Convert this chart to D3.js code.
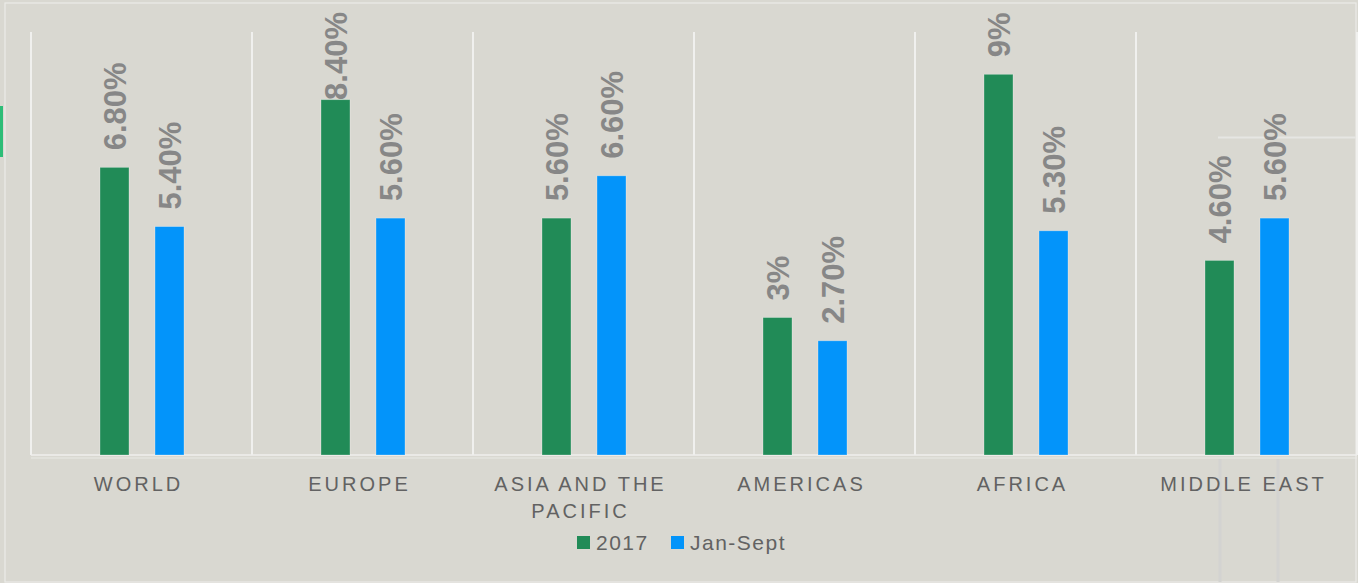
<!DOCTYPE html>
<html>
<head>
<meta charset="utf-8">
<script src="https://cdn.jsdelivr.net/npm/d3@7"></script>
<style>
  html, body { margin: 0; padding: 0; background: #d9d8d1; }
  svg { display: block; }
  .cat text { font-family: "Liberation Sans", Arial, sans-serif; font-size: 20px; fill: #626262; letter-spacing: 3px; }
  .val { font-family: "Liberation Sans", Arial, sans-serif; font-size: 31px; font-weight: bold; fill: #878787; }
  .legend text { font-family: "Liberation Sans", Arial, sans-serif; font-size: 21px; fill: #626262; letter-spacing: 1.5px; }
</style>
</head>
<body>
<div id="graphic"></div>
<script>
// chart data
const categories = ['WORLD', 'EUROPE', 'ASIA AND THE PACIFIC', 'AMERICAS', 'AFRICA', 'MIDDLE EAST'];
const seriesNames = ['2017', 'Jan-Sept'];
const values2017 = [6.8, 8.4, 5.6, 3.25, 9.0, 4.6];
const valuesJanSept = [5.4, 5.6, 6.6, 2.7, 5.3, 5.6];
const labels2017 = ['6.80%', '8.40%', '5.60%', '3%', '9%', '4.60%'];
const labelsJanSept = ['5.40%', '5.60%', '6.60%', '2.70%', '5.30%', '5.60%'];
const colours = ['#218b57', '#0394fa'];

const width = 1358, height = 583;

const rows = categories.map((c, i) => ({
    name: c,
    vals: [
        { key: seriesNames[0], value: values2017[i], label: labels2017[i] },
        { key: seriesNames[1], value: valuesJanSept[i], label: labelsJanSept[i] }
    ]
}));

const svg = d3.select('#graphic').append('svg')
    .attr('width', width)
    .attr('height', height);

// outer frame bits
svg.append('rect').attr('x', 5).attr('y', 3).attr('width', 1351).attr('height', 579)
    .attr('fill', 'none').attr('stroke', '#ebebe8').attr('stroke-width', 1.2);
svg.append('rect').attr('x', 0).attr('y', 106).attr('width', 3).attr('height', 51).attr('fill', '#2dbd77');
svg.append('line').attr('x1', 1218).attr('x2', 1357).attr('y1', 137.5).attr('y2', 137.5)
    .attr('stroke', '#e6e6e3').attr('stroke-width', 2);
[1220, 1278].forEach((xx) => {
    svg.append('line').attr('x1', xx).attr('x2', xx).attr('y1', 459).attr('y2', 582)
        .attr('stroke', '#d3d3d1').attr('stroke-width', 3);
});

const x = d3.scaleBand().domain(categories).range([31, 1357]).paddingInner(0).paddingOuter(0);
const x1 = d3.scaleBand().domain(seriesNames).range([69, 153]).paddingInner(0.473).paddingOuter(0);
const y = d3.scaleLinear().domain([0, 10]).range([455, 32]);

// vertical separators between categories
const bounds = categories.map((c) => x(c)).concat([x.range()[1]]);
svg.append('g').attr('class', 'grid')
    .selectAll('line')
    .data(bounds)
    .join('line')
    .attr('x1', (d) => d).attr('x2', (d) => d)
    .attr('y1', y(10)).attr('y2', y(0))
    .attr('stroke', '#f0f0ee').attr('stroke-width', 2);

// baseline (double light line)
svg.append('line').attr('x1', 31).attr('x2', 1357).attr('y1', y(0)).attr('y2', y(0))
    .attr('stroke', '#efefec').attr('stroke-width', 1.5);
svg.append('line').attr('x1', 31).attr('x2', 1357).attr('y1', y(0) + 3).attr('y2', y(0) + 3)
    .attr('stroke', '#e9e9e6').attr('stroke-width', 1.2);

// bars
const groups = svg.append('g')
    .selectAll('g')
    .data(rows)
    .join('g')
    .attr('transform', (d) => `translate(${x(d.name) - 31},0)`);

groups.selectAll('rect')
    .data((d) => d.vals)
    .join('rect')
    .attr('x', (d) => 31 + x1(d.key))
    .attr('y', (d) => y(d.value))
    .attr('width', x1.bandwidth())
    .attr('height', (d) => y(0) - y(d.value))
    .attr('fill', (d, i) => colours[i])
    .attr('stroke', 'rgba(255,255,255,0.35)')
    .attr('stroke-width', 0.8);

// value labels, rotated
groups.selectAll('text.val')
    .data((d) => d.vals)
    .join('text')
    .attr('class', 'val')
    .attr('text-anchor', 'start')
    .attr('dy', '0.36em')
    .text((d) => d.label)
    .each(function (d) {
        const len = this.getComputedTextLength();
        let start = y(d.value) - 17;
        if (start - len < 12) start = 12 + len;
        const cx = 31 + x1(d.key) + x1.bandwidth() / 2;
        d3.select(this).attr('transform', `translate(${cx},${start}) rotate(-90)`);
    });

// category axis
function wrap(text, w) {
    text.each(function () {
        const t = d3.select(this);
        const words = t.text().split(/\s+/);
        const yy = t.attr('y');
        const dy = parseFloat(t.attr('dy'));
        t.text(null);
        let line = [];
        let lineNo = 0;
        let tspan = t.append('tspan').attr('x', -3).attr('y', yy).attr('dy', dy + 'em');
        words.forEach((word) => {
            line.push(word);
            tspan.text(line.join(' '));
            if (tspan.node().getComputedTextLength() > w && line.length > 1) {
                line.pop();
                tspan.text(line.join(' '));
                line = [word];
                lineNo++;
                tspan = t.append('tspan').attr('x', -3).attr('y', yy)
                    .attr('dy', (dy + lineNo * 1.35) + 'em').text(word);
            }
        });
    });
}

const axis = svg.append('g')
    .attr('class', 'cat')
    .attr('transform', `translate(0,${y(0)})`)
    .call(d3.axisBottom(x).tickSize(0).tickPadding(22));
axis.select('.domain').remove();
axis.selectAll('text').attr('fill', null).call(wrap, 200);

// legend
const legend = svg.append('g').attr('class', 'legend');
const legendX = [577, 671];
seriesNames.forEach((s, i) => {
    legend.append('rect').attr('x', legendX[i]).attr('y', 536).attr('width', 13).attr('height', 13)
        .attr('fill', colours[i]);
    legend.append('text').attr('x', legendX[i] + 19).attr('y', 550).text(s);
});
</script>
</body>
</html>
